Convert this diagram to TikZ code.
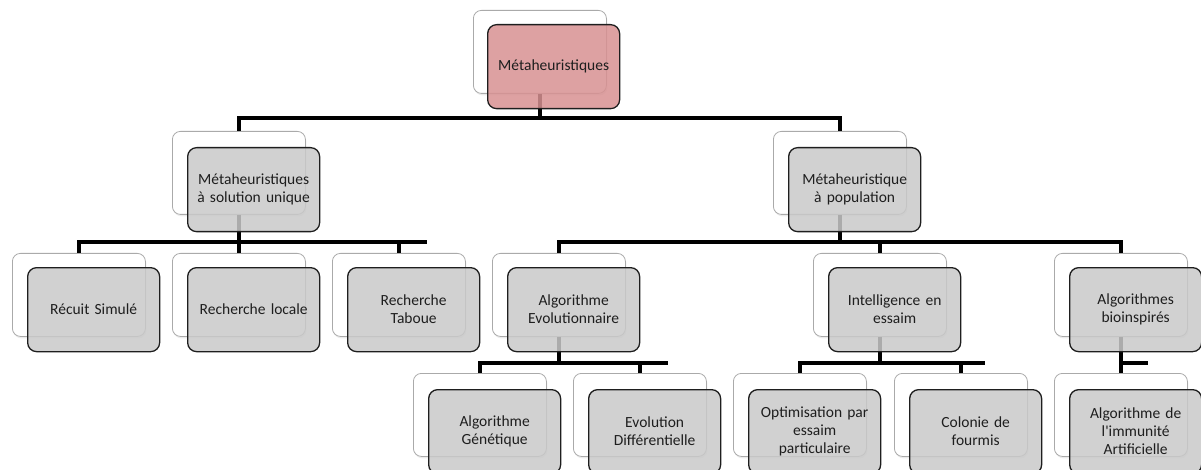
\documentclass[tikz,border=0pt]{standalone}
\usepackage{fontspec}
\setmainfont{Carlito}[Ligatures=TeXOff]
\usetikzlibrary{shadows}
\definecolor{frontgrey}{RGB}{201,201,201}
\definecolor{frontpink}{RGB}{216,145,146}
\definecolor{backedge}{RGB}{170,170,170}
\definecolor{frontedge}{RGB}{30,30,30}
\definecolor{txt}{RGB}{30,30,30}
\begin{document}
\begin{tikzpicture}[x=1pt,y=-1pt,
  backbox/.style={draw=backedge, line width=0.8pt, fill=white, rounded corners=8pt,
    minimum width=133pt, minimum height=83pt, anchor=north west, inner sep=0pt,
    drop shadow={opacity=0.15, shadow xshift=1pt, shadow yshift=-2pt}},
  frontbox/.style={draw=frontedge, line width=1.3pt, fill=frontgrey, fill opacity=0.85,
    text opacity=1, rounded corners=9pt, minimum width=132pt, minimum height=84pt,
    anchor=north west, inner sep=0pt, text width=126pt, align=center,
    font=\fontsize{15.5}{18}\selectfont, text=txt},
  rootbox/.style={frontbox, fill=frontpink},
  conn/.style={line width=3.6pt, black},
]
\useasboundingbox (0,0) rectangle (1201,470);
\clip (0,0) rectangle (1201,470);

% levels of the horizontal bars
\coordinate (y0) at (0,118);
\coordinate (y1) at (0,242);
\coordinate (y2) at (0,363);
% free ends of the bars that run past their last child
\coordinate (e1) at (427,242);
\coordinate (e3) at (668,363);
\coordinate (e4) at (985,363);
\coordinate (e5) at (1148,363);

% back (white) boxes
\node[backbox] (b-top) at (473,10) {};
\node[backbox] (b-sol) at (172,131) {};
\node[backbox] (b-pop) at (773,131) {};
\node[backbox] (b-rs) at (12,253) {};
\node[backbox] (b-rl) at (172,253) {};
\node[backbox] (b-rt) at (332,253) {};
\node[backbox] (b-ae) at (492,253) {};
\node[backbox] (b-ie) at (813,253) {};
\node[backbox] (b-ab) at (1054,253) {};
\node[backbox] (b-ag) at (413,373) {};
\node[backbox] (b-ed) at (573,373) {};
\node[backbox] (b-op) at (733,373) {};
\node[backbox] (b-cf) at (894,373) {};
\node[backbox] (b-ai) at (1054,373) {};

% connectors: root
\draw[conn] (b-top.south) -- (b-top.south |- y0);
\draw[conn] (b-sol.north) -- (b-sol.north |- y0) -- (b-pop.north |- y0) -- (b-pop.north);
% single-solution branch
\draw[conn] (b-sol.south) -- (b-sol.south |- y1);
\draw[conn] (b-rs.north) -- (b-rs.north |- y1) -- (e1);
\draw[conn] (b-rl.north) -- (b-rl.north |- y1);
\draw[conn] (b-rt.north) -- (b-rt.north |- y1);
% population branch
\draw[conn] (b-pop.south) -- (b-pop.south |- y1);
\draw[conn] (b-ae.north) -- (b-ae.north |- y1) -- (b-ab.north |- y1) -- (b-ab.north);
\draw[conn] (b-ie.north) -- (b-ie.north |- y1);
% evolutionary algorithms
\draw[conn] (b-ae.south) -- (b-ae.south |- y2);
\draw[conn] (b-ag.north) -- (b-ag.north |- y2) -- (e3);
\draw[conn] (b-ed.north) -- (b-ed.north |- y2);
% swarm intelligence
\draw[conn] (b-ie.south) -- (b-ie.south |- y2);
\draw[conn] (b-op.north) -- (b-op.north |- y2) -- (e4);
\draw[conn] (b-cf.north) -- (b-cf.north |- y2);
% bio-inspired
\draw[conn] (b-ab.south) -- (b-ai.north);
\draw[conn] (b-ab.south |- y2) -- (e5);

% front (labelled) boxes
\node[rootbox]  (f-top) at (487,24)  {Métaheuristiques};
\node[frontbox] (f-sol) at (187,147) {Métaheuristiques\\à solution unique};
\node[frontbox] (f-pop) at (788,147) {Métaheuristique\\à population};
\node[frontbox] (f-rs) at (27,267)  {Récuit Simulé};
\node[frontbox] (f-rl) at (187,267) {Recherche locale};
\node[frontbox] (f-rt) at (347,267) {Recherche\\Taboue};
\node[frontbox] (f-ae) at (507,267) {Algorithme\\Evolutionnaire};
\node[frontbox] (f-ie) at (828,267) {Intelligence en\\essaim};
\node[frontbox] (f-ab) at (1069,267) {Algorithmes\\bioinspirés};
\node[frontbox] (f-ag) at (428,389) {Algorithme\\Génétique};
\node[frontbox] (f-ed) at (588,389) {Evolution\\Différentielle};
\node[frontbox] (f-op) at (748,389) {Optimisation par\\essaim\\particulaire};
\node[frontbox] (f-cf) at (909,389) {Colonie de\\fourmis};
\node[frontbox] (f-ai) at (1069,389) {Algorithme de\\l'immunité\\Artificielle};
\end{tikzpicture}
\end{document}
